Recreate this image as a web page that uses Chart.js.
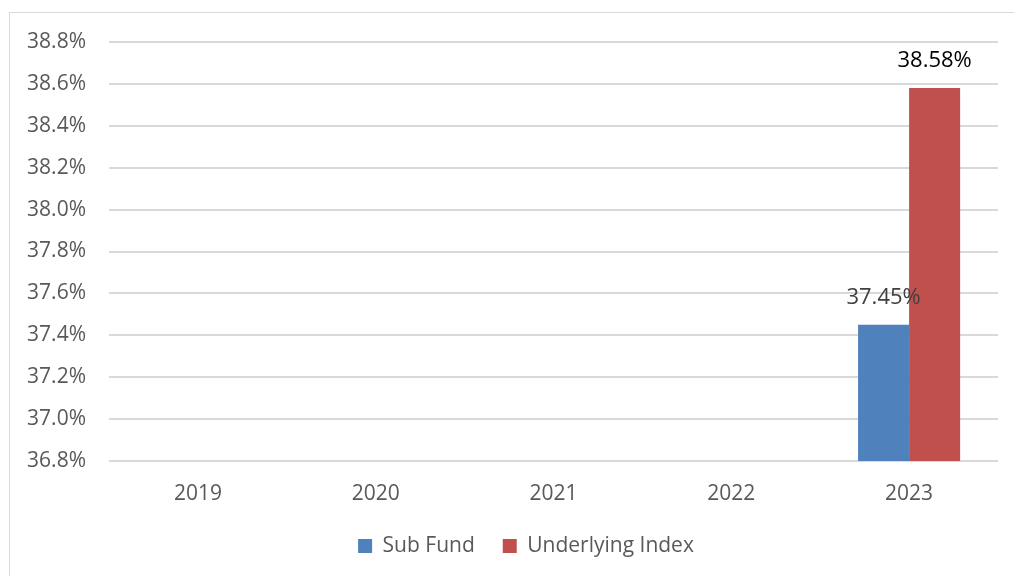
<!DOCTYPE html>
<html lang="en">
<head>
    <meta charset="UTF-8">
    <title>Sub Fund vs Underlying Index</title>
    <script src="https://cdn.jsdelivr.net/npm/chart.js"></script>
    <style>
        html, body { margin: 0; padding: 0; background: #fff; overflow: hidden; }
        #wrap { position: relative; width: 1014px; height: 576px; }
        #frame { position: absolute; left: 9px; top: 12px; width: 1100px; height: 700px; border: 1.5px solid #d9d9d9; }
        #myChart { position: absolute; left: 0; top: 0; }
    </style>
</head>
<body>
    <div id="wrap">
        <div id="frame"></div>
        <canvas id="myChart" width="1014" height="576"></canvas>
    </div>

    <script>
        // Datos del gráfico
        const years = ['2019', '2020', '2021', '2022', '2023'];
        const subFund = [null, null, null, null, 37.45];
        const underlyingIndex = [null, null, null, null, 38.58];
        const seriesNames = ['Sub Fund', 'Underlying Index'];
        const labelColors = ['#404040', '#000000'];

        const fontFamily = '"Open Sans", "Noto Sans", sans-serif';

        // Etiquetas de valor encima de las barras
        const valueLabels = {
            id: 'valueLabels',
            afterDatasetsDraw(chart) {
                const ctx = chart.ctx;
                ctx.save();
                ctx.font = '22px ' + fontFamily;
                ctx.textAlign = 'center';
                ctx.textBaseline = 'middle';
                chart.data.datasets.forEach((ds, i) => {
                    chart.getDatasetMeta(i).data.forEach((bar, j) => {
                        if (ds.data[j] == null) return;
                        ctx.fillStyle = labelColors[i];
                        ctx.fillText(ds.data[j].toFixed(2) + '%', bar.x, bar.y - 27);
                    });
                });
                ctx.restore();
            }
        };

        // La leyenda del original está algo desplazada a la derecha
        const legendShift = {
            id: 'legendShift',
            afterLayout(chart) {
                chart.legend.left += 27;
                chart.legend.right += 27;
            }
        };

        const ctx = document.getElementById('myChart').getContext('2d');
        new Chart(ctx, {
            type: 'bar',
            data: {
                labels: years,
                datasets: [{
                    label: seriesNames[0],
                    data: subFund,
                    backgroundColor: '#4f81bd'
                }, {
                    label: seriesNames[1],
                    data: underlyingIndex,
                    backgroundColor: '#c0504d'
                }]
            },
            options: {
                responsive: false,
                animation: false,
                layout: { padding: { top: 42, right: 16, left: 0, bottom: 9.5 } },
                datasets: { bar: { categoryPercentage: 0.574, barPercentage: 1 } },
                scales: {
                    x: {
                        grid: { display: false, drawTicks: false },
                        border: { display: false },
                        ticks: { color: '#595959', font: { family: fontFamily, size: 21 }, padding: 20 },
                        afterFit(scale) { scale.height = 46.5; }
                    },
                    y: {
                        min: 36.8,
                        max: 38.8,
                        border: { display: false },
                        grid: { color: '#d9d9d9', lineWidth: 2, drawTicks: false },
                        ticks: {
                            stepSize: 0.2,
                            color: '#595959',
                            padding: 23,
                            font: { family: fontFamily, size: 21 },
                            callback: v => v.toFixed(1) + '%'
                        },
                        afterFit(scale) { scale.width = 109; }
                    }
                },
                plugins: {
                    legend: {
                        position: 'bottom',
                        labels: {
                            color: '#595959',
                            font: { family: fontFamily, size: 21 },
                            boxWidth: 14,
                            boxHeight: 14,
                            padding: 28
                        }
                    },
                    tooltip: { enabled: false }
                }
            },
            plugins: [valueLabels, legendShift]
        });
    </script>
</body>
</html>
